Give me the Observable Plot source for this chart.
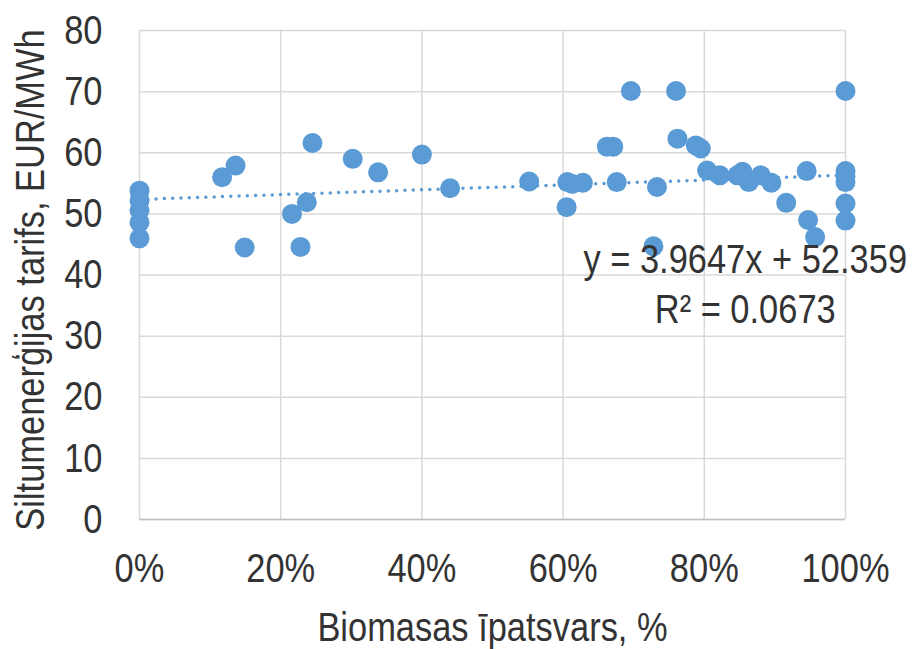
<!DOCTYPE html>
<html>
<head>
<meta charset="utf-8">
<script src="https://cdn.jsdelivr.net/npm/d3@7"></script>
<script src="https://cdn.jsdelivr.net/npm/@observablehq/plot@0.6"></script>
<style>
  html, body { margin: 0; padding: 0; background: #fff; }
  #chart svg { display: block; }
</style>
</head>
<body>
<div id="chart"></div>
<script>
// Biomass share (fraction) versus district heating tariff (EUR/MWh)
const biomassShare = [
  0, 0, 0, 0, 0,
  0.117, 0.136, 0.149, 0.216, 0.228, 0.237, 0.245,
  0.302, 0.338, 0.400, 0.440, 0.552,
  0.605, 0.606, 0.613, 0.628, 0.662, 0.671, 0.676, 0.696,
  0.728, 0.733, 0.760, 0.762, 0.788, 0.795, 0.804, 0.822,
  0.847, 0.854, 0.863, 0.880, 0.895, 0.916, 0.945, 0.947, 0.957,
  1, 1, 1, 1, 1, 1
];
const heatTariff = [
  53.8, 52.2, 50.6, 48.6, 46.0,
  56.0, 57.9, 44.5, 50.0, 44.6, 51.9, 61.6,
  59.0, 56.8, 59.7, 54.2, 55.3,
  51.1, 55.2, 54.9, 55.1, 61.0, 61.0, 55.2, 70.1,
  44.7, 54.4, 70.1, 62.3, 61.2, 60.7, 57.1, 56.3,
  56.3, 56.9, 55.2, 56.3, 55.1, 51.8, 57.0, 49.0, 46.2,
  70.1, 57.0, 56.1, 55.2, 51.7, 48.9
];

// Linear trend line coefficients and fit quality
const trendSlope = [3.9647];
const trendIntercept = [52.359];
const trendR2 = [0.0673];

// Axis ticks
const xTicks = [0, 0.2, 0.4, 0.6, 0.8, 1];
const yTicks = [0, 10, 20, 30, 40, 50, 60, 70, 80];

const xTitle = "Biomasas īpatsvars, %";
const yTitle = "Siltumenerģijas tarifs, EUR/MWh";

const points = biomassShare.map((x, i) => ({x, y: heatTariff[i]}));
const trend = [0, 1].map(x => ({x, y: trendSlope[0] * x + trendIntercept[0]}));
const trendLabel = `y = ${trendSlope[0]}x + ${trendIntercept[0]}\nR² = ${trendR2[0]}`;

const blue = "#5b9bd5";
const gridColor = "#d9d9d9";
const textColor = "#333333";
const font = `"Liberation Sans Narrow", "Arial Narrow", "Liberation Sans", Arial, sans-serif`;
// horizontal condensing applied to every label (narrow typeface look)
const condense = 0.84;

const chart = Plot.plot({
  width: 915,
  height: 649,
  marginLeft: 139,
  marginRight: 70,
  marginTop: 30,
  marginBottom: 130,
  style: {fontFamily: font, fontSize: "41px", color: textColor, background: "#fff", overflow: "visible"},
  x: {domain: [0, 1], ticks: xTicks, tickFormat: d3.format(".0%")},
  y: {domain: [0, 80], ticks: yTicks},
  marks: [
    Plot.gridX(xTicks, {stroke: gridColor, strokeOpacity: 1, strokeWidth: 1.5}),
    Plot.gridY(yTicks, {stroke: gridColor, strokeOpacity: 1, strokeWidth: 1.5}),
    Plot.ruleY([0], {stroke: "#bfbfbf", strokeWidth: 1.5}),
    Plot.axisX(xTicks, {tickSize: 0, tickPadding: 33, tickFormat: d3.format(".0%"), label: null, fill: textColor}),
    Plot.axisY(yTicks, {tickSize: 0, tickPadding: 37, label: null, fill: textColor}),
    Plot.line(trend, {x: "x", y: "y", stroke: blue, strokeWidth: 3.5, strokeDasharray: "0 8.3", strokeLinecap: "round"}),
    Plot.dot(points, {x: "x", y: "y", r: 10, fill: blue, stroke: "none"}),
    Plot.text([trendLabel], {
      x: 0.858, y: 32.1, text: d => d, textAnchor: "middle", lineAnchor: "bottom",
      lineHeight: 1.22, fill: textColor, fontSize: 41
    }),
    Plot.text([xTitle], {
      frameAnchor: "bottom", dy: 121, text: d => d, lineAnchor: "bottom",
      textAnchor: "middle", fill: textColor, fontSize: 41
    }),
    Plot.text([yTitle], {
      frameAnchor: "left", dx: -96, dy: 5, rotate: -90, text: d => d, lineAnchor: "bottom",
      textAnchor: "middle", fill: textColor, fontSize: 41
    })
  ]
});

// condense each label horizontally around its own anchor point
chart.querySelectorAll("text").forEach(t => {
  const x = +(t.getAttribute("x") || 0);
  const base = t.getAttribute("transform") || "";
  t.setAttribute("transform", `${base} translate(${x},0) scale(${condense},1) translate(${-x},0)`.trim());
});

document.getElementById("chart").appendChild(chart);
</script>
</body>
</html>
